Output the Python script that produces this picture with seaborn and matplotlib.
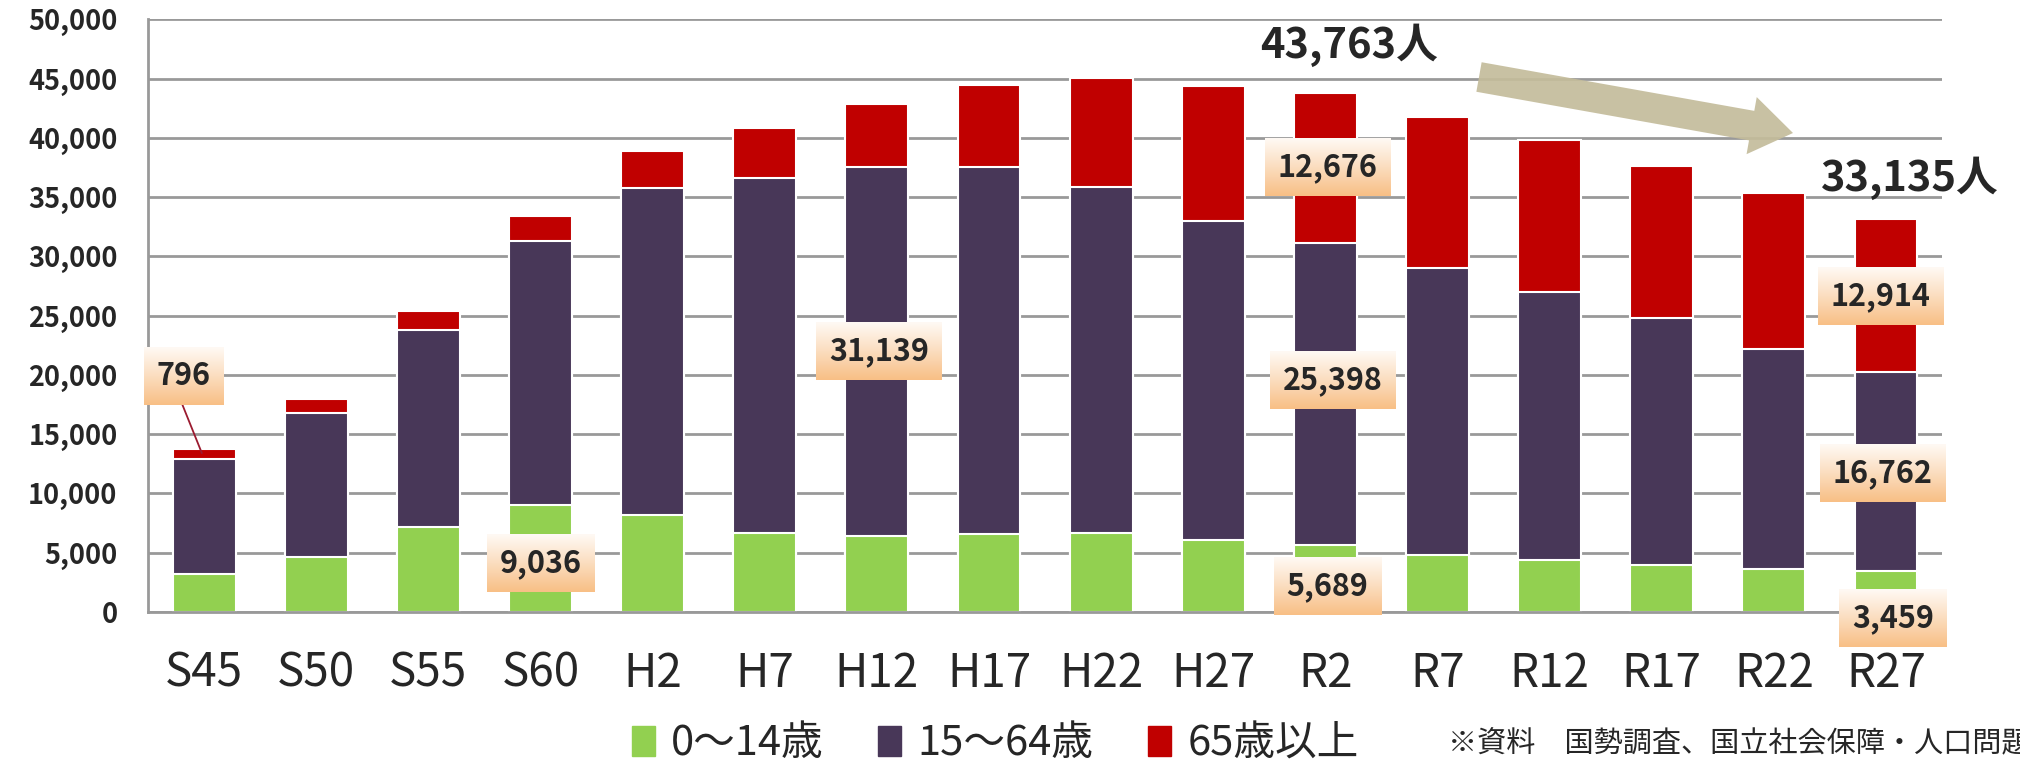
import numpy as np
import pandas as pd
import seaborn as sns
import matplotlib.pyplot as plt
import matplotlib.patches as mpatches
from matplotlib.colors import LinearSegmentedColormap

# Data (population by age group)
years = ["S45", "S50", "S55", "S60", "H2", "H7", "H12", "H17",
         "H22", "H27", "R2", "R7", "R12", "R17", "R22", "R27"]
age_0_14 = [3180, 4650, 7170, 9036, 8200, 6700, 6386, 6610,
            6700, 6100, 5689, 4840, 4360, 3940, 3660, 3459]
age_15_64 = [9760, 12170, 16590, 22300, 27600, 29900, 31139, 30930,
             29150, 26860, 25398, 24150, 22610, 20840, 18530, 16762]
age_65 = [796, 1120, 1610, 2100, 3070, 4220, 5360, 6890,
          9200, 11440, 12676, 12800, 12820, 12820, 13160, 12914]
series_names = ["0～14歳", "15～64歳", "65歳以上"]
colors = ["#92D050", "#483758", "#C00000"]

# value labels: (category index offset, y, text)
labels = [(-0.18, 19900, "796"), (3.0, 4130, "9,036"), (6.02, 21960, "31,139"),
          (10.02, 37500, "12,676"), (10.07, 19570, "25,398"), (10.02, 2170, "5,689"),
          (14.95, 26600, "12,914"), (14.97, 11700, "16,762"), (15.06, -500, "3,459")]

df = pd.DataFrame({"year": years, "a": age_0_14, "b": age_15_64, "c": age_65})
df["mid"] = df["a"] + df["b"]
df["top"] = df["mid"] + df["c"]

sns.set_style("white")
plt.rcParams["font.family"] = ["Noto Sans CJK JP", "DejaVu Sans"]

fig = plt.figure(figsize=(20.2, 7.7), dpi=100)
ax = fig.add_axes([0.0733, 0.2052, 0.8881, 0.7698])

# stacked bars drawn as overlapping cumulative totals
for col, c in zip(["top", "mid", "a"], colors[::-1]):
    sns.barplot(data=df, x="year", y=col, color=c, saturation=1, width=0.56,
                edgecolor="white", linewidth=1.5, ax=ax, zorder=2)

ax.set_xlim(-0.5, 15.5)
ax.set_ylim(0, 50000)
ax.set_yticks(range(0, 50001, 5000))
ax.set_yticklabels([f"{v:,}" for v in range(0, 50001, 5000)],
                   fontsize=19.5, fontweight="bold")
ax.tick_params(axis="x", labelsize=33, pad=27, length=0)
ax.tick_params(axis="y", pad=22, length=0)
ax.set_xlabel("")
ax.set_ylabel("")
ax.yaxis.grid(True, color="#999999", lw=2)
ax.set_axisbelow(True)
for s in ["top", "right"]:
    ax.spines[s].set_visible(False)
for s in ["left", "bottom"]:
    ax.spines[s].set_color("#999999")
    ax.spines[s].set_linewidth(2)

# leader line for 796
ax.plot([-0.22, -0.02], [18100, 13400], color="#9B1B30", lw=1.3, zorder=3)

texts = []
for x, y, t in labels:
    txt = ax.text(x, y, t, ha="center", va="center", fontsize=22, fontweight="bold",
                  zorder=6, clip_on=False,
                  bbox=dict(boxstyle="square,pad=0.42", fc="none", ec="none"))
    texts.append(txt)

# gradient boxes behind the value labels
fig.canvas.draw()
renderer = fig.canvas.get_renderer()
cmap = LinearSegmentedColormap.from_list("peach", ["#FFF9F4", "#FBDDBF", "#F8BF86"])
grad = np.linspace(0, 1, 64).reshape(-1, 1)
inv = ax.transData.inverted()
for txt in texts:
    bb = txt.get_bbox_patch().get_window_extent(renderer)
    (x0, y0), (x1, y1) = inv.transform(bb.get_points())
    ax.imshow(grad, cmap=cmap, extent=(x0, x1, y0, y1), origin="upper",
              aspect="auto", zorder=5, clip_on=False)
ax.set_xlim(-0.5, 15.5)
ax.set_ylim(0, 50000)

# totals and trend arrow
fig.text(0.668, 0.9416, "43,763人", ha="center", va="center", fontsize=30, fontweight="bold")
fig.text(0.9455, 0.769, "33,135人", ha="center", va="center", fontsize=30, fontweight="bold")
arrow = mpatches.FancyArrow(14.79, 6.93, 3.14, -0.56, width=0.30, head_width=0.58,
                            head_length=0.42, length_includes_head=True,
                            color="#C4BC9B", alpha=0.92, lw=0,
                            transform=fig.dpi_scale_trans)
fig.patches.append(arrow)

# legend and source note
handles = [mpatches.Patch(color=c, label=n) for c, n in zip(colors, series_names)]
fig.legend(handles=handles, loc="center", bbox_to_anchor=(0.4926, 0.034), ncol=3,
           frameon=False, fontsize=30, handlelength=0.55, handleheight=0.75,
           handletextpad=0.4, columnspacing=1.3)
fig.text(0.717, 0.034, "※資料　国勢調査、国立社会保障・人口問題研究所推計",
         ha="left", va="center", fontsize=21)

plt.savefig("out.png", dpi=100)
